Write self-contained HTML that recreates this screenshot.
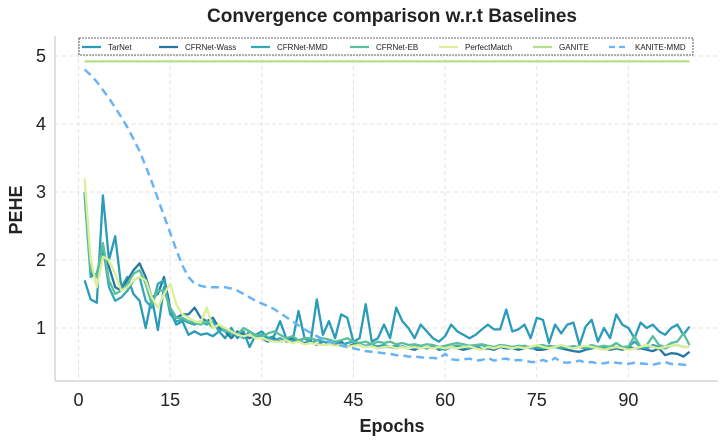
<!DOCTYPE html>
<html><head><meta charset="utf-8"><style>
html,body{margin:0;padding:0;background:#fff;}
svg{display:block;font-family:"Liberation Sans",Arial,sans-serif;}
</style></head><body>
<svg id="chart" width="726" height="443" viewBox="0 0 726 443">
<text x="392" y="22" text-anchor="middle" font-size="19" font-weight="bold" fill="#222">Convergence comparison w.r.t Baselines</text>
<g id="grid"></g>
<line x1="55" y1="36" x2="55" y2="381" stroke="#ccc" stroke-width="1.2"/>
<line x1="55" y1="381" x2="718" y2="381" stroke="#ccc" stroke-width="1.2"/>
<g id="ticks"></g>
<g id="series"></g>
<text x="392" y="432" text-anchor="middle" font-size="18" font-weight="bold" fill="#222">Epochs</text>
<text x="22" y="210" text-anchor="middle" font-size="18" font-weight="bold" fill="#222" transform="rotate(-90 22 210)">PEHE</text>
<g id="legend"></g>
</svg>
<script>
const xTicks=[0,15,30,45,60,75,90];
const yTicks=[1,2,3,4,5];
const seriesNames=["TarNet","CFRNet-Wass","CFRNet-MMD","CFRNet-EB","PerfectMatch","GANITE","KANITE-MMD"];
const tarnet=[1.7,1.42,1.37,2.95,2.0,2.35,1.6,1.75,1.5,1.4,1.0,1.45,0.97,1.6,1.25,1.05,1.1,0.9,0.95,0.9,0.92,0.88,0.95,0.85,1.0,0.85,0.95,0.72,0.9,0.95,0.85,0.88,1.1,0.85,0.8,1.25,0.85,0.8,1.42,0.9,1.1,0.85,1.2,1.15,0.8,0.85,1.35,0.8,0.85,1.05,0.85,1.3,1.1,1.0,0.85,1.05,0.95,0.85,0.8,0.88,1.05,0.95,0.9,0.85,0.9,0.98,1.05,0.98,0.98,1.27,0.95,0.98,1.05,0.85,1.15,1.12,0.78,1.05,0.92,1.05,1.08,0.75,1.02,1.12,0.8,1.0,0.85,1.2,1.05,1.0,0.85,1.08,1.0,1.05,0.95,0.9,1.0,1.05,0.9,1.02];
const cfrWass=[3.0,1.8,1.75,2.1,1.9,1.6,1.55,1.7,1.85,1.95,1.75,1.45,1.5,1.75,1.3,1.15,1.2,1.2,1.3,1.15,1.1,1.15,1.0,0.95,0.85,0.95,0.9,0.85,0.9,0.85,0.8,0.85,0.8,0.82,0.85,0.8,0.78,0.8,0.75,0.8,0.78,0.75,0.8,0.72,0.76,0.75,0.72,0.74,0.7,0.72,0.72,0.7,0.73,0.7,0.68,0.72,0.7,0.73,0.68,0.7,0.72,0.7,0.68,0.7,0.72,0.69,0.7,0.68,0.72,0.7,0.7,0.68,0.7,0.72,0.68,0.68,0.7,0.72,0.7,0.68,0.66,0.65,0.68,0.7,0.72,0.7,0.68,0.7,0.68,0.72,0.7,0.7,0.68,0.66,0.7,0.6,0.63,0.62,0.58,0.65];
const cfrMmd=[2.95,1.75,1.8,2.2,1.6,1.4,1.45,1.55,1.7,1.75,1.4,1.3,1.65,1.7,1.2,1.1,1.12,1.08,1.05,1.1,1.05,1.1,0.95,1.0,0.9,0.92,0.85,0.95,0.88,0.9,0.85,0.82,0.85,0.8,0.82,0.8,0.85,0.78,0.82,0.8,0.78,0.8,0.75,0.78,0.8,0.76,0.74,0.75,0.73,0.75,0.72,0.74,0.72,0.7,0.73,0.72,0.7,0.72,0.7,0.68,0.72,0.74,0.72,0.7,0.73,0.75,0.72,0.7,0.73,0.72,0.7,0.72,0.74,0.7,0.72,0.7,0.74,0.72,0.7,0.72,0.73,0.72,0.7,0.71,0.72,0.7,0.73,0.72,0.7,0.72,0.8,0.72,0.7,0.75,0.72,0.7,0.74,0.75,0.72,0.72];
const cfrEb=[3.0,1.85,1.75,2.25,1.7,1.5,1.55,1.65,1.8,1.85,1.65,1.35,1.55,1.55,1.3,1.15,1.15,1.1,1.08,1.05,1.1,1.0,1.05,0.95,0.95,0.9,1.0,0.95,0.9,0.88,0.92,0.95,0.9,0.85,0.88,0.82,0.85,0.85,0.82,0.85,0.83,0.8,0.82,0.85,0.8,0.78,0.8,0.76,0.8,0.78,0.8,0.76,0.78,0.75,0.76,0.74,0.76,0.75,0.72,0.74,0.76,0.78,0.76,0.74,0.75,0.76,0.74,0.72,0.75,0.74,0.72,0.74,0.73,0.72,0.74,0.75,0.72,0.73,0.74,0.72,0.7,0.73,0.72,0.75,0.72,0.74,0.72,0.78,0.72,0.73,0.88,0.72,0.75,0.88,0.75,0.72,0.78,0.8,0.92,0.75];
const perfect=[3.2,2.0,1.6,2.05,2.0,1.8,1.55,1.6,1.7,1.75,1.7,1.45,1.3,1.5,1.65,1.35,1.2,1.15,1.1,1.08,1.3,1.0,1.05,1.0,0.95,0.9,0.88,0.9,0.85,0.85,0.82,0.8,0.8,0.82,0.78,0.8,0.76,0.78,0.76,0.75,0.76,0.74,0.75,0.72,0.74,0.75,0.72,0.73,0.7,0.72,0.73,0.7,0.72,0.7,0.72,0.7,0.72,0.7,0.72,0.7,0.72,0.7,0.72,0.73,0.7,0.68,0.72,0.7,0.73,0.72,0.7,0.72,0.7,0.72,0.75,0.72,0.7,0.72,0.75,0.72,0.7,0.72,0.74,0.72,0.7,0.68,0.7,0.72,0.7,0.68,0.7,0.72,0.75,0.72,0.7,0.72,0.74,0.75,0.72,0.72];
const ganite=new Array(100).fill(4.92);
const kanite=[4.8,4.72,4.62,4.5,4.38,4.24,4.1,3.95,3.78,3.6,3.38,3.15,2.9,2.65,2.4,2.15,1.92,1.75,1.65,1.62,1.6,1.6,1.6,1.6,1.58,1.55,1.5,1.45,1.4,1.36,1.32,1.28,1.22,1.16,1.1,1.04,0.98,0.93,0.88,0.84,0.8,0.77,0.74,0.72,0.7,0.68,0.66,0.65,0.64,0.63,0.62,0.6,0.6,0.58,0.58,0.57,0.56,0.56,0.55,0.62,0.54,0.53,0.54,0.55,0.52,0.53,0.56,0.52,0.54,0.55,0.52,0.53,0.52,0.5,0.5,0.53,0.5,0.56,0.5,0.49,0.5,0.52,0.49,0.5,0.48,0.48,0.5,0.49,0.48,0.47,0.49,0.48,0.47,0.46,0.48,0.5,0.47,0.47,0.46,0.45];
const seriesData=[tarnet,cfrWass,cfrMmd,cfrEb,perfect,ganite,kanite];
const colors=["#2a9bb8","#2479a3","#35a8b8","#5cbf9c","#dcee98","#b2e08a","#6ab4f5"];
const NS="http://www.w3.org/2000/svg";
const xS=v=>78.5+v*6.11;
const yS=v=>328-(v-1)*68;
function mk(tag,attrs,parent){const e=document.createElementNS(NS,tag);for(const k in attrs)e.setAttribute(k,attrs[k]);parent.appendChild(e);return e;}
const grid=document.getElementById('grid'),ticks=document.getElementById('ticks');
xTicks.forEach(t=>{
 const l=mk('line',{x1:xS(t),x2:xS(t),y1:38,y2:381,stroke:'#e3e3e3','stroke-dasharray':'4,3'},grid);
 
 
 const tx=mk('text',{x:xS(t),y:406,'text-anchor':'middle','font-size':18,fill:'#222'},ticks);
 tx.textContent=t;
 
 
});
yTicks.forEach(t=>{
 const l=mk('line',{x1:55,x2:718,y1:yS(t),y2:yS(t),stroke:'#e3e3e3','stroke-dasharray':'4,3'},grid);
 
 
 const tx=mk('text',{x:46,y:yS(t)+6,'text-anchor':'end','font-size':18,fill:'#222'},ticks);
 tx.textContent=t;
 
 
});
const sg=document.getElementById('series');
seriesData.forEach((d,i)=>{
 const pts=d.map((v,j)=>xS(j+1).toFixed(1)+','+yS(v).toFixed(1)).join(' ');
 const attrs={points:pts,fill:'none',stroke:colors[i],'stroke-width':2.3,'stroke-linejoin':'round'};
 if(i===6){attrs['stroke-dasharray']='8,5';attrs['stroke-width']=2.5;}
 const p=mk('polyline',attrs,sg);
 
 
});
const lg=document.getElementById('legend');
const box=mk('rect',{x:79,y:38,width:614,height:17,fill:'#fff',stroke:'#333','stroke-width':0.8,'stroke-dasharray':'2,1'},lg);


const lx=[82,159,251,350,439,533,609];
seriesNames.forEach((n,i)=>{
 const ln=mk('line',{x1:lx[i],x2:lx[i]+19,y1:47,y2:47,stroke:colors[i],'stroke-width':2.3},lg);
 if(i===6)ln.setAttribute('stroke-dasharray','6,4');
 
 
 const t=mk('text',{x:lx[i]+26,y:50,'font-size':8,fill:'#222'},lg);
 t.textContent=n;
 
 
});
</script>
</body></html>
